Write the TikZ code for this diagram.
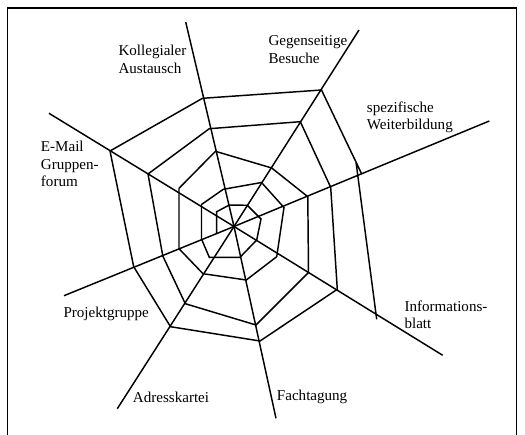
\documentclass[tikz,border=0pt]{standalone}
\usepackage{fontspec}
\setmainfont{Liberation Serif}
\usepackage{tikz}
\tikzstyle{frame}=[line width=0.8pt]
\tikzstyle{spoke}=[line width=1.1pt]
\tikzstyle{web}=[line width=1.1pt,line join=miter]
\tikzstyle{lbl}=[anchor=west,align=left,inner sep=0pt,font=\fontsize{11.3}{13.1}\selectfont]
\begin{document}
\begin{tikzpicture}[x=0.75pt,y=-0.75pt]
	\useasboundingbox (0,0) rectangle (525,435);
	\draw[frame] (7.5,435) -- (7.5,8) -- (516.5,8) -- (516.5,435);
	% spokes
	\coordinate (c) at (234,226.5);
	\coordinate (kol) at (185.7,22);
	\coordinate (geg) at (359,30);
	\coordinate (spe) at (489.3,121);
	\coordinate (inf) at (442.7,355.3);
	\coordinate (fac) at (276,418.3);
	\coordinate (adr) at (117.3,408.7);
	\coordinate (pro) at (64,295.7);
	\coordinate (ema) at (49,113.3);
	\draw[spoke] (c) -- (kol);
	\draw[spoke] (c) -- (geg);
	\draw[spoke] (c) -- (spe);
	\draw[spoke] (c) -- (inf);
	\draw[spoke] (c) -- (fac);
	\draw[spoke] (c) -- (adr);
	\draw[spoke] (c) -- (pro);
	\draw[spoke] (c) -- (ema);
	% web, one spiral from outside in
	\draw[web] (376.7,319.3) -- (356,162) -- (361.7,174) -- (321.5,90) -- (202.5,98.3) -- (110,151)
		-- (133.7,266.7) -- (170.5,326.7) -- (260,341)
		-- (337.3,289.3) -- (330.7,187.3) -- (300.3,121.7) -- (209.3,128.7) -- (148,174)
		-- (162.8,256) -- (185.3,303.7) -- (256,325)
		-- (308.5,272.5) -- (307.8,196.7) -- (271.7,168) -- (215.5,151.3) -- (179,188.3)
		-- (179,248.7) -- (203,273.7) -- (246.3,280)
		-- (276.7,256.7) -- (284,207.5) -- (261.5,182.5) -- (223.3,189.3) -- (201.5,204.5)
		-- (201.5,239) -- (209.3,257.3) -- (240,257.3)
		-- (256.7,240) -- (261,219) -- (247.3,205.3) -- (229.3,205) -- (216.7,211.7) -- (216.7,234);
	% labels
	\node[lbl] (lkol) at (118.3,59.5) {Kollegialer\\Austausch};
	\node[lbl] (lgeg) at (268.3,49.8) {Gegenseitige\\Besuche};
	\node[lbl] (lspe) at (366.7,117.2) {spezifische\\Weiterbildung};
	\node[lbl] (linf) at (404.3,315) {Informations-\\blatt};
	\node[lbl] (lfac) at (276.7,397.3) {Fachtagung};
	\node[lbl] (ladr) at (132.7,397.3) {Adresskartei};
	\node[lbl] (lpro) at (63.3,314) {Projektgruppe};
	\node[lbl] (lema) at (40.7,164) {E-Mail\\Gruppen-\\forum};
\end{tikzpicture}
\end{document}
